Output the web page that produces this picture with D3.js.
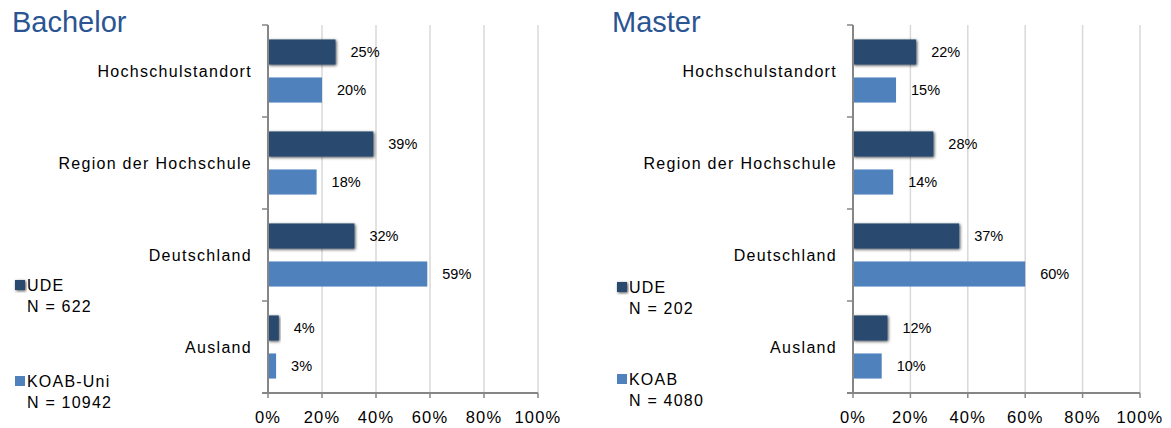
<!DOCTYPE html>
<html>
<head>
<meta charset="utf-8">
<script src="https://cdn.jsdelivr.net/npm/d3@7"></script>
<style>
body { margin: 0; background: #fff; }
svg text { font-family: "Liberation Sans", Arial, sans-serif; }
</style>
</head>
<body>
<div id="chart"></div>
<script>
const w = 1171;
const h = 428;

const categories = ["Hochschulstandort", "Region der Hochschule", "Deutschland", "Ausland"];
const xTicks = [0, 20, 40, 60, 80, 100];

const bachelorUde = [25, 39, 32, 4];
const bachelorKoab = [20, 18, 59, 3];
const masterUde = [22, 28, 37, 12];
const masterKoab = [15, 14, 60, 10];

const bachelorLegend = [["UDE", "N = 622"], ["KOAB-Uni", "N = 10942"]];
const masterLegend = [["UDE", "N = 202"], ["KOAB", "N = 4080"]];

const udeColor = "#2c4a6e";
const koabColor = "#4f81bd";

let svg = d3.select('#chart')
	.append('svg')
		.attr('width', w)
		.attr('height', h);

// shadow for the dark bars
let defs = svg.append("defs");
let f = defs.append("filter").attr("id", "shadow")
	.attr("x", "-20%").attr("y", "-30%").attr("width", "140%").attr("height", "160%");
f.append("feDropShadow")
	.attr("dx", 1).attr("dy", 1).attr("stdDeviation", 1.6)
	.attr("flood-color", "#000").attr("flood-opacity", 0.7);

drawPanel({
	title: "Bachelor", titleX: 12,
	x0: 268, x1: 538, labelX: 252,
	ude: bachelorUde, koab: bachelorKoab,
	legend: bachelorLegend, legendX: 15, legendY: [291, 387]
});

drawPanel({
	title: "Master", titleX: 612,
	x0: 853, x1: 1140, labelX: 837,
	ude: masterUde, koab: masterKoab,
	legend: masterLegend, legendX: 617, legendY: [293, 385]
});

function drawPanel(cfg) {
	const top = 25;
	const bottom = 393;
	let g = svg.append("g");

	let xScale = d3.scaleLinear().domain([0, 100]).range([cfg.x0, cfg.x1]);
	let yScale = d3.scaleBand().domain(categories).range([top, bottom]);
	let inner = d3.scaleBand().domain(["ude", "koab"])
		.range([0, yScale.bandwidth()]).paddingInner(0.34).paddingOuter(0.38);

	// title
	g.append("text")
		.attr("x", cfg.titleX).attr("y", 32)
		.attr("font-size", 29)
		.attr("fill", "#2b5592")
		.text(cfg.title);

	// gridlines
	g.selectAll(".grid")
		.data(xTicks.slice(1))
		.enter()
		.append("line")
		.attr("x1", (d) => xScale(d)).attr("x2", (d) => xScale(d))
		.attr("y1", top).attr("y2", bottom)
		.attr("stroke", "#d9d9d9").attr("stroke-width", 1.5);

	// bars
	const series = [["ude", cfg.ude, udeColor], ["koab", cfg.koab, koabColor]];
	series.forEach(([key, vals, col]) => {
		g.selectAll(".bar-" + key)
			.data(vals)
			.enter()
			.append("rect")
			.attr("x", xScale(0))
			.attr("y", (d, i) => yScale(categories[i]) + inner(key))
			.attr("width", (d) => xScale(d) - xScale(0))
			.attr("height", inner.bandwidth())
			.attr("fill", col)
			.attr("filter", key == "ude" ? "url(#shadow)" : null);

		g.selectAll(".val-" + key)
			.data(vals)
			.enter()
			.append("text")
			.attr("x", (d) => xScale(d) + 15)
			.attr("y", (d, i) => yScale(categories[i]) + inner(key) + inner.bandwidth() / 2 + 5)
			.attr("font-size", 14.5)
			.attr("fill", "#000")
			.text((d) => d + "%");
	});

	// y axis line with ticks at band edges
	g.append("line")
		.attr("x1", cfg.x0).attr("x2", cfg.x0)
		.attr("y1", top).attr("y2", bottom)
		.attr("stroke", "#868686").attr("stroke-width", 2);
	const edges = categories.map((c) => yScale(c)).concat([bottom]);
	g.selectAll(".ytick")
		.data(edges)
		.enter()
		.append("line")
		.attr("x1", cfg.x0 - 6).attr("x2", cfg.x0)
		.attr("y1", (d) => d).attr("y2", (d) => d)
		.attr("stroke", "#868686").attr("stroke-width", 1.5);

	// x axis line with ticks
	g.append("line")
		.attr("x1", cfg.x0 - 6).attr("x2", cfg.x1)
		.attr("y1", bottom).attr("y2", bottom)
		.attr("stroke", "#868686").attr("stroke-width", 2);
	g.selectAll(".xtick")
		.data(xTicks)
		.enter()
		.append("line")
		.attr("x1", (d) => xScale(d)).attr("x2", (d) => xScale(d))
		.attr("y1", bottom).attr("y2", bottom + 5)
		.attr("stroke", "#868686").attr("stroke-width", 1.5);
	g.selectAll(".xlabel")
		.data(xTicks)
		.enter()
		.append("text")
		.attr("x", (d) => xScale(d)).attr("y", 423)
		.attr("text-anchor", "middle")
		.attr("font-size", 16.5)
		.attr("letter-spacing", 1.2)
		.text((d) => d + "%");

	// category labels
	g.selectAll(".cat")
		.data(categories)
		.enter()
		.append("text")
		.attr("x", cfg.labelX)
		.attr("y", (d) => yScale(d) + yScale.bandwidth() / 2 + 6)
		.attr("text-anchor", "end")
		.attr("font-size", 16)
		.attr("letter-spacing", 1.3)
		.text((d) => d);

	// legend
	cfg.legend.forEach(([name, n], i) => {
		const ly = cfg.legendY[i];
		g.append("rect")
			.attr("x", cfg.legendX).attr("y", ly - 11)
			.attr("width", 10).attr("height", 10)
			.attr("fill", i == 0 ? udeColor : koabColor)
			.attr("filter", i == 0 ? "url(#shadow)" : null);
		g.append("text")
			.attr("x", cfg.legendX + 12).attr("y", ly)
			.attr("font-size", 16).attr("letter-spacing", 1.2)
			.text(name);
		g.append("text")
			.attr("x", cfg.legendX + 12).attr("y", ly + 21)
			.attr("font-size", 16).attr("letter-spacing", 1.2)
			.text(n);
	});
}
</script>
</body>
</html>
